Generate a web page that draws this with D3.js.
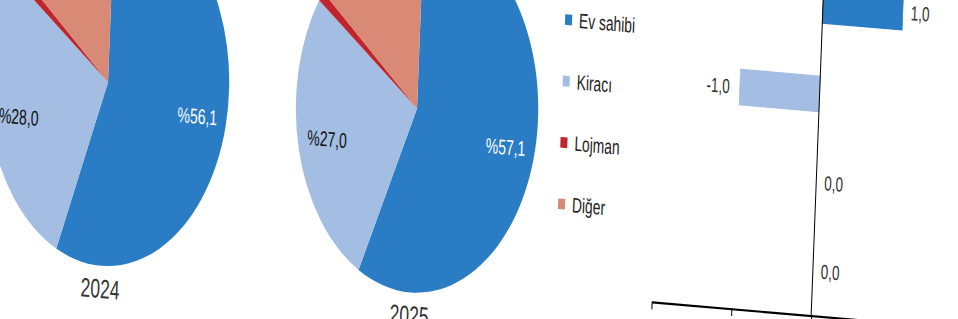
<!DOCTYPE html>
<html>
<head>
<meta charset="utf-8">
<script src="https://cdn.jsdelivr.net/npm/d3@7"></script>
<style>
    html, body { margin: 0; padding: 0; background: #fff; }
    svg { display: block; }
</style>
</head>
<body>
<div id="chart"></div>
<script>
// Categories, pie shares per year and the yearly change.
const categories = ["Ev sahibi", "Kiracı", "Lojman", "Diğer"];
const years = ["2024", "2025"];
const shares2024 = [56.1, 28.0, 0.9, 15.0];
const shares2025 = [57.1, 27.0, 0.9, 15.0];
const changes = [1.0, -1.0, 0.0, 0.0];
const changeTicks = [-2, -1, 0, 1, 2];

const colors = ["#2a7dc4", "#a4bde2", "#c0252b", "#d98a76"];

// Page size and the slanted, stretched view of the original picture.
const width = 958;
const height = 319;
const view = [1, 0.086, -0.058, 1.52, 0, 0];

const pieRadius = 121;
const pieCenters = [[110.8, 47.6], [419.8, 47.6]];
const labelRadius = 92;

const trLocale = d3.formatLocale({decimal: ",", thousands: ".", grouping: [3], currency: ["", "₺"], minus: "-"});
const fmt = trLocale.format(".1f");

const color = d3.scaleOrdinal().domain(categories).range(colors);

// Create the SVG container.
const svg = d3.select("#chart")
    .append("svg")
    .attr("width", width)
    .attr("height", height)
    .attr("viewBox", [0, 0, width, height]);

const g = svg.append("g")
    .attr("transform", `matrix(${view.join(",")})`)
    .attr("font-family", "'Liberation Sans', Arial, sans-serif");

// Pies, one per year.
const pie = d3.pie().sort(null).value(d => d.value);
const arc = d3.arc().innerRadius(0).outerRadius(pieRadius);
const labelArc = d3.arc().innerRadius(labelRadius).outerRadius(labelRadius);

[shares2024, shares2025].forEach((shares, i) => {
    const data = categories.map((c, j) => ({category: c, value: shares[j]}));
    const pg = g.append("g")
        .attr("transform", `translate(${pieCenters[i][0]},${pieCenters[i][1]})`);

    pg.selectAll("path")
        .data(pie(data))
        .join("path")
            .attr("fill", d => color(d.data.category))
            .attr("d", arc);

    // Only the two big slices have their labels inside the visible part.
    pg.selectAll("text.share")
        .data(pie(data).filter(d => d.data.value >= 20))
        .join("text")
            .attr("class", "share")
            .attr("transform", d => `translate(${labelArc.centroid(d)})`)
            .attr("text-anchor", "middle")
            .attr("dy", "0.35em")
            .attr("font-size", 14)
            .attr("fill", d => d.data.category === "Ev sahibi" ? "#fff" : "#111")
            .text(d => "%" + fmt(d.data.value));

    pg.append("text")
        .attr("y", 136)
        .attr("dy", "0.35em")
        .attr("text-anchor", "middle")
        .attr("font-size", 17.5)
        .attr("fill", "#333")
        .text(years[i]);
});

// Legend.
const legend = g.append("g")
    .attr("transform", "translate(567.5,0)")
    .selectAll("g")
    .data(categories)
    .join("g")
        .attr("transform", (d, i) => `translate(0,${-19.1 + i * 40.4})`);

legend.append("rect")
    .attr("x", -3.5)
    .attr("y", -3.5)
    .attr("width", 7)
    .attr("height", 7)
    .attr("fill", d => color(d));

legend.append("text")
    .attr("x", 10.5)
    .attr("dy", "0.35em")
    .attr("font-size", 13.8)
    .attr("fill", "#222")
    .text(d => d);

// Change bars.
const x = d3.scaleLinear().domain([-2, 2]).range([661, 980]);
const y = d3.scaleBand().domain(categories).range([-72, 161]).paddingInner(0.6).paddingOuter(0.3);

g.append("g")
    .selectAll("rect")
    .data(changes)
    .join("rect")
        .attr("x", d => x(Math.min(0, d)))
        .attr("y", (d, i) => y(categories[i]))
        .attr("width", d => Math.abs(x(d) - x(0)))
        .attr("height", y.bandwidth())
        .attr("fill", (d, i) => colors[i])
        .attr("stroke", (d, i) => colors[i])
        .attr("stroke-width", 0.8);

g.append("g")
    .attr("font-size", 13.5)
    .attr("fill", "#333")
    .selectAll("text")
    .data(changes)
    .join("text")
        .attr("x", d => d < 0 ? x(d) - 10 : x(d) + 8)
        .attr("y", (d, i) => y(categories[i]) + y.bandwidth() / 2)
        .attr("dy", "0.35em")
        .attr("text-anchor", d => d < 0 ? "end" : "start")
        .text(d => fmt(d));

// Axes.
g.append("line")
    .attr("x1", x(0))
    .attr("x2", x(0))
    .attr("y1", -72)
    .attr("y2", 161)
    .attr("stroke", "#000")
    .attr("stroke-width", 1);

// Tick labels sit below the visible area, so only the marks are drawn.
g.append("g")
    .attr("transform", "translate(0,161)")
    .call(d3.axisBottom(x).tickValues(changeTicks).tickSize(5).tickSizeOuter(0).tickFormat(() => ""))
    .call(ax => ax.select(".domain").attr("stroke-width", 1.4));
</script>
</body>
</html>
